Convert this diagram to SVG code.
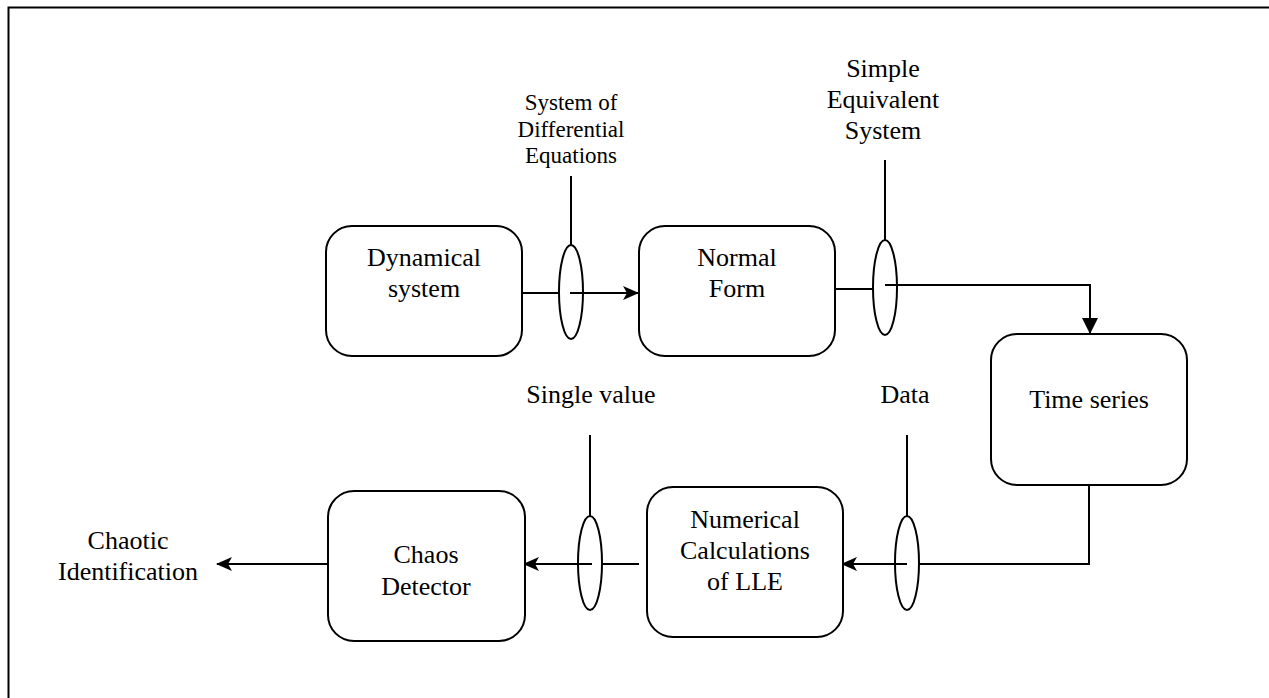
<svg xmlns="http://www.w3.org/2000/svg" width="1269" height="698" viewBox="0 0 1269 698">
<style>
.box{fill:#fff;stroke:#000;stroke-width:2}
.ell{fill:none;stroke:#000;stroke-width:2}
.ln{fill:none;stroke:#000;stroke-width:2}
text{font-family:"Liberation Serif","Times New Roman",serif;font-size:26px;fill:#000;text-anchor:middle}
.sm{font-size:23px}
</style>
<defs>
<marker id="cl" viewBox="0 0 16 14" refX="15" refY="7" markerWidth="16" markerHeight="14" markerUnits="userSpaceOnUse" orient="auto">
<path d="M0,0 L16,7 L0,14 L4,7 z" fill="#000"/>
</marker>
<marker id="bl" viewBox="0 0 16 16" refX="15" refY="8" markerWidth="16" markerHeight="16" markerUnits="userSpaceOnUse" orient="auto">
<path d="M0,0 L16,8 L0,16 z" fill="#000"/>
</marker>
</defs>
<rect x="8.5" y="7.5" width="1300" height="720" fill="none" stroke="#000" stroke-width="2"/>
<g id="connectors">
<line class="ln" x1="522" y1="293" x2="559" y2="293"/>
<line class="ln" x1="570" y1="293" x2="638" y2="293" marker-end="url(#cl)"/>
<line class="ln" x1="571" y1="176" x2="571" y2="245"/>
<line class="ln" x1="835" y1="289" x2="873" y2="289"/>
<polyline class="ln" points="885,285 1090,285 1090,333" marker-end="url(#bl)"/>
<line class="ln" x1="885" y1="160" x2="885" y2="240"/>
<polyline class="ln" points="1089,485 1089,564 919,564"/>
<line class="ln" x1="907" y1="564" x2="842" y2="564" marker-end="url(#cl)"/>
<line class="ln" x1="907" y1="435" x2="907" y2="516"/>
<line class="ln" x1="639" y1="564" x2="602" y2="564"/>
<line class="ln" x1="592" y1="564" x2="524" y2="564" marker-end="url(#cl)"/>
<line class="ln" x1="590" y1="435" x2="590" y2="516"/>
<line class="ln" x1="328" y1="564" x2="217" y2="564" marker-end="url(#cl)"/>
</g>
<g id="ellipse1"><ellipse class="ell" cx="571" cy="292" rx="12" ry="47"/></g>
<g id="ellipse2"><ellipse class="ell" cx="885" cy="287.5" rx="12" ry="47.5"/></g>
<g id="ellipse3"><ellipse class="ell" cx="907" cy="563" rx="12" ry="47"/></g>
<g id="ellipse4"><ellipse class="ell" cx="590" cy="563" rx="12" ry="47"/></g>
<g id="dynamical">
<rect class="box" x="326" y="226" width="196" height="130" rx="26"/>
<text x="424" y="266">Dynamical</text>
<text x="424" y="297">system</text>
</g>
<g id="normalform">
<rect class="box" x="639" y="226" width="196" height="130" rx="26"/>
<text x="737" y="266">Normal</text>
<text x="737" y="297">Form</text>
</g>
<g id="timeseries">
<rect class="box" x="991" y="334" width="196" height="151" rx="26"/>
<text x="1089" y="408">Time series</text>
</g>
<g id="numerical">
<rect class="box" x="647" y="487" width="196" height="150" rx="26"/>
<text x="745" y="528">Numerical</text>
<text x="745" y="559">Calculations</text>
<text x="745" y="590">of LLE</text>
</g>
<g id="chaosdetector">
<rect class="box" x="328" y="491" width="197" height="150" rx="26"/>
<text x="426" y="563">Chaos</text>
<text x="426" y="595">Detector</text>
</g>
<g id="labels">
<text class="sm" x="571" y="110">System of</text>
<text class="sm" x="571" y="137">Differential</text>
<text class="sm" x="571" y="163">Equations</text>
<text x="883" y="77">Simple</text>
<text x="883" y="108">Equivalent</text>
<text x="883" y="139">System</text>
<text x="591" y="403">Single value</text>
<text x="905" y="403">Data</text>
<text x="128" y="549">Chaotic</text>
<text x="128" y="580">Identification</text>
</g>
</svg>
